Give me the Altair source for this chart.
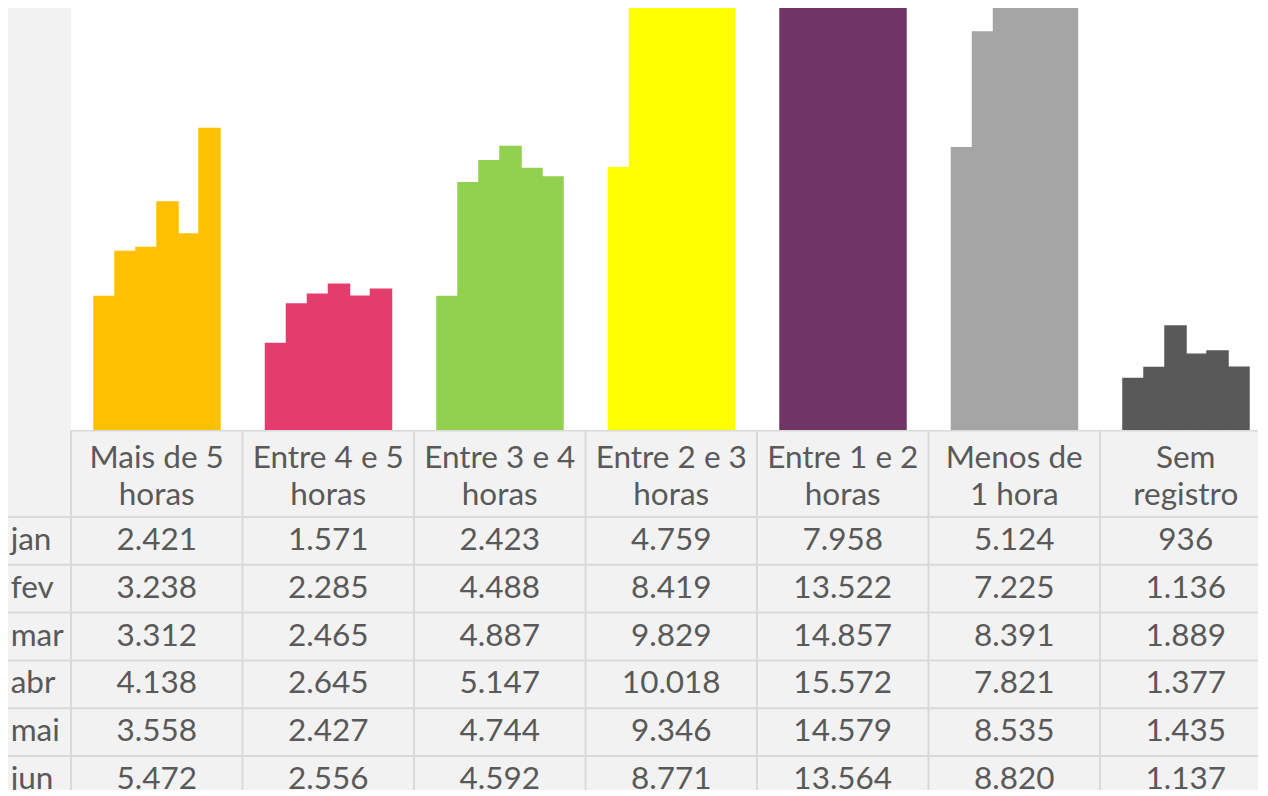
import altair as alt
import pandas as pd

# ---------------- data ----------------
categories = ["Mais de 5 horas", "Entre 4 e 5 horas", "Entre 3 e 4 horas",
              "Entre 2 e 3 horas", "Entre 1 e 2 horas", "Menos de 1 hora", "Sem registro"]
header_labels = ["Mais de 5\nhoras", "Entre 4 e 5\nhoras", "Entre 3 e 4\nhoras",
                 "Entre 2 e 3\nhoras", "Entre 1 e 2\nhoras", "Menos de\n1 hora", "Sem\nregistro"]
months = ["jan", "fev", "mar", "abr", "mai", "jun"]

mais_5 = [2421, 3238, 3312, 4138, 3558, 5472]
entre_4_5 = [1571, 2285, 2465, 2645, 2427, 2556]
entre_3_4 = [2423, 4488, 4887, 5147, 4744, 4592]
entre_2_3 = [4759, 8419, 9829, 10018, 9346, 8771]
entre_1_2 = [7958, 13522, 14857, 15572, 14579, 13564]
menos_1 = [5124, 7225, 8391, 7821, 8535, 8820]
sem_registro = [936, 1136, 1889, 1377, 1435, 1137]

series = [mais_5, entre_4_5, entre_3_4, entre_2_3, entre_1_2, menos_1, sem_registro]
colors = ["#FFC000", "#E33D6E", "#92D050", "#FFFF00", "#713466", "#A5A5A5", "#595959"]

rows = []
for ci, (cat, vals) in enumerate(zip(categories, series)):
    for mi, (m, v) in enumerate(zip(months, vals)):
        rows.append({"cat": cat, "ci": ci, "month": m, "mi": mi, "value": v,
                     "label": f"{v:,}".replace(",", ".")})
df = pd.DataFrame(rows)
hdr = pd.DataFrame({"ci": list(range(len(categories))), "label": header_labels})
mon = pd.DataFrame({"mi": list(range(len(months))), "month": months})

# ---------------- layout ----------------
W = 1250
H1 = 422
H2 = 360
COLW = 171.5
X0 = -63 / COLW
X1 = X0 + W / COLW
YMAX = H1 / 55.1 * 1000
HEAD = 87
ROWH = 47.8
GRID = "#D9D9D9"
TXT = "#595959"
FONT = "Lato"
FS = 31.5

xs = alt.Scale(domain=[X0, X1], nice=False, zero=False)

# ---- top: bars ----
white_bg = alt.Chart(pd.DataFrame({"a": [0], "b": [9]})).mark_rect(color="white", clip=True).encode(
    x=alt.X("a:Q", scale=xs, axis=None), x2="b:Q",
    y=alt.value(0), y2=alt.value(H1))

bars = alt.Chart(df).transform_calculate(
    xa="datum.ci + 0.1341 + datum.mi * 0.12245",
    xb="datum.ci + 0.1341 + (datum.mi + 1) * 0.12245",
).mark_rect(clip=True, strokeWidth=1.5).encode(
    x=alt.X("xa:Q", scale=xs, axis=None),
    x2="xb:Q",
    y=alt.Y("value:Q", scale=alt.Scale(domain=[0, YMAX], nice=False, zero=True), axis=None),
    y2=alt.datum(0),
    color=alt.Color("cat:N", scale=alt.Scale(domain=categories, range=colors), legend=None),
    stroke=alt.Color("cat:N", scale=alt.Scale(domain=categories, range=colors), legend=None),
)

top = alt.layer(white_bg, bars).properties(width=W, height=H1)

# ---- bottom: data table ----
ys = alt.Scale(domain=[0, H2], reverse=True, nice=False, zero=False)

vlines = alt.Chart(pd.DataFrame({"i": list(range(len(categories) + 1))})).mark_rule(
    color=GRID, strokeWidth=2, clip=True).encode(
    x=alt.X("i:Q", scale=xs, axis=None),
    y=alt.value(0), y2=alt.value(H2))

top_line = alt.Chart(pd.DataFrame({"a": [0], "b": [9], "y": [0.5]})).mark_rule(
    color=GRID, strokeWidth=2, clip=True).encode(
    x=alt.X("a:Q", scale=xs, axis=None), x2="b:Q",
    y=alt.Y("y:Q", scale=ys, axis=None))

hlines = alt.Chart(pd.DataFrame({"r": list(range(len(months) + 1))})).transform_calculate(
    yy=f"{HEAD} + datum.r * {ROWH}", a="-0.385", b="9"
).mark_rule(color=GRID, strokeWidth=2, clip=True).encode(
    x=alt.X("a:Q", scale=xs, axis=None), x2="b:Q",
    y=alt.Y("yy:Q", scale=ys, axis=None))

head_text = alt.Chart(hdr).transform_calculate(
    xc="datum.ci + 0.5", yc="29"
).mark_text(font=FONT, fontSize=FS, color=TXT, lineBreak="\n", lineHeight=36.5,
            align="center", baseline="middle", clip=True).encode(
    x=alt.X("xc:Q", scale=xs, axis=None),
    y=alt.Y("yc:Q", scale=ys, axis=None),
    text="label:N")

val_text = alt.Chart(df).transform_calculate(
    xc="datum.ci + 0.5", yc=f"{HEAD} + datum.mi * {ROWH} + {ROWH / 2}"
).mark_text(font=FONT, fontSize=FS, color=TXT, align="center", baseline="middle",
            clip=True).encode(
    x=alt.X("xc:Q", scale=xs, axis=None),
    y=alt.Y("yc:Q", scale=ys, axis=None),
    text="label:N")

row_text = alt.Chart(mon).transform_calculate(
    xc="-0.352", yc=f"{HEAD} + datum.mi * {ROWH} + {ROWH / 2}"
).mark_text(font=FONT, fontSize=FS, color=TXT, align="left", baseline="middle",
            clip=True).encode(
    x=alt.X("xc:Q", scale=xs, axis=None),
    y=alt.Y("yc:Q", scale=ys, axis=None),
    text="month:N")

bottom = alt.layer(vlines, top_line, hlines, head_text, val_text, row_text).properties(
    width=W, height=H2)

chart = alt.vconcat(top, bottom, spacing=0).properties(
    padding=0, background="#F2F2F2"
).configure_view(stroke=None)

chart.save("out.html", embed_options={"renderer": "svg", "actions": False})
